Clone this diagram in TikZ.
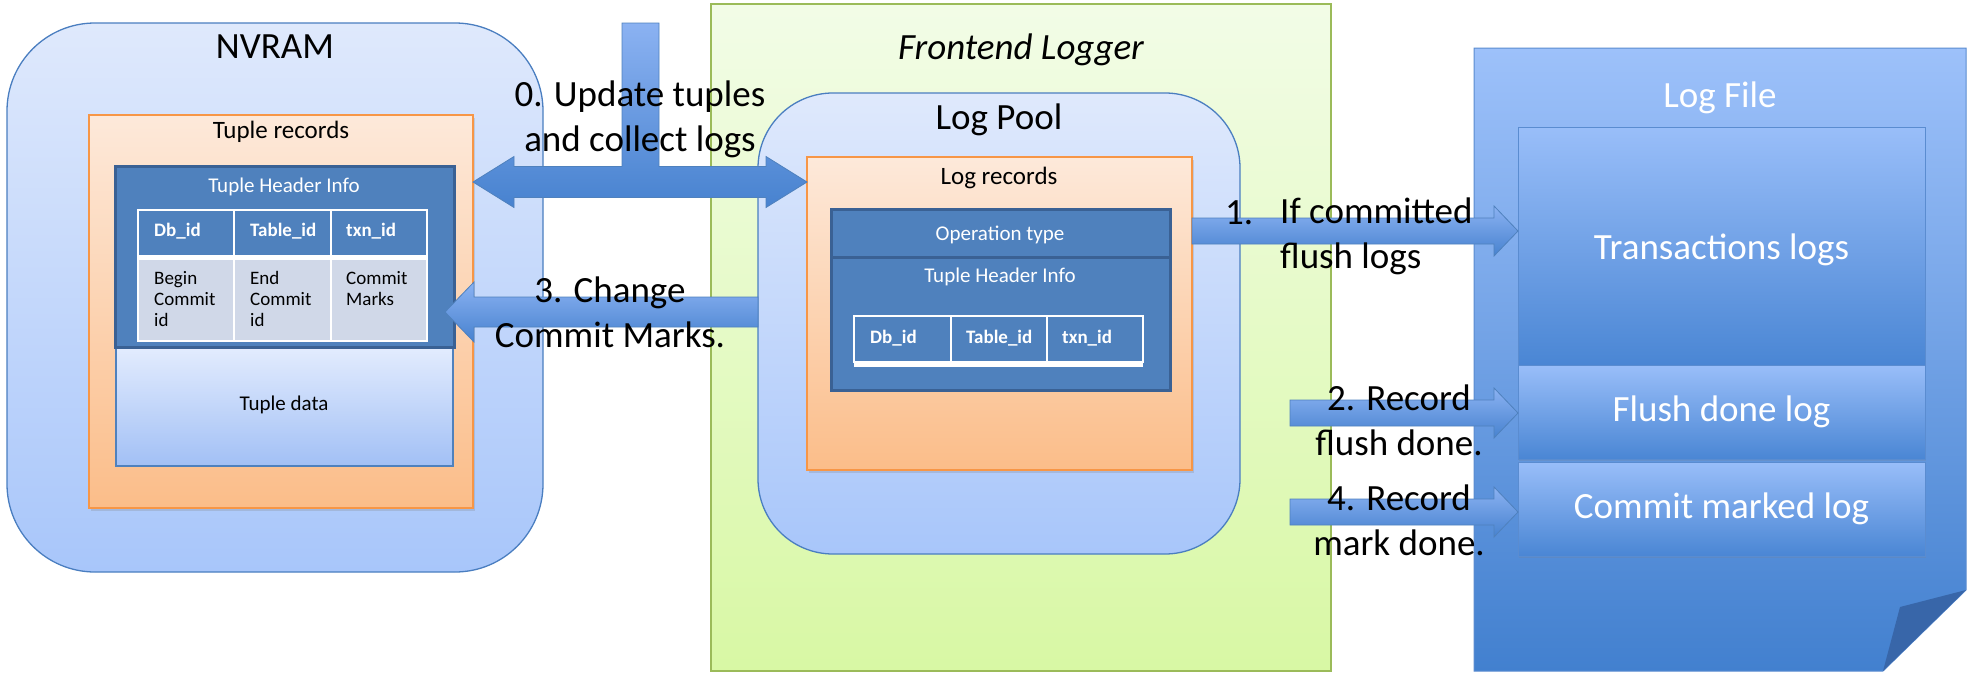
\documentclass[tikz,border=0pt]{standalone}
\usepackage{fontspec}
\setmainfont{Carlito}
\usetikzlibrary{calc,shadows}
\definecolor{outerTop}{HTML}{DFE9FC}
\definecolor{outerBot}{HTML}{A8C6FA}
\definecolor{outerLine}{HTML}{4A7EC0}
\definecolor{orTop}{HTML}{FDE9DA}
\definecolor{orBot}{HTML}{FBBD89}
\definecolor{orLine}{HTML}{F79646}
\definecolor{hdrFill}{HTML}{4F81BD}
\definecolor{hdrLine}{HTML}{3A6194}
\definecolor{cellFill}{HTML}{D0D8E8}
\definecolor{tdTop}{HTML}{E3ECFE}
\definecolor{tdBot}{HTML}{A2C0F5}
\definecolor{grTop}{HTML}{F2FCE7}
\definecolor{grBot}{HTML}{D8F8A4}
\definecolor{grLine}{HTML}{9BBB59}
\definecolor{lfTop}{HTML}{9DC1FA}
\definecolor{lfBot}{HTML}{4280CF}
\definecolor{lfLine}{HTML}{5A8CD0}
\definecolor{ibTop}{HTML}{99BEF9}
\definecolor{ibBot}{HTML}{4A86D4}
\definecolor{foldC}{HTML}{3866A9}
\definecolor{arTop}{HTML}{8BB2F2}
\definecolor{arBot}{HTML}{4782CF}
\definecolor{arLine}{HTML}{4F81BD}
\newcommand\fsz[2]{\fontsize{#1}{#2}\selectfont}
% box node: name, x1, y1, x2, y2, style
\newcommand\boxat[6]{\node[#6, anchor=north west, inner sep=0pt, outer sep=0pt,
  minimum width={(#4-#2)*1pt}, minimum height={(#5-#3)*1pt}] (#1) at (#2,#3) {};}
% block arrow: tail, tip, y, half body, half head, head length (signed), style
\newcommand\blockarrow[7]{\path[#7] let \p1=(#1), \p2=(#2), \p3=(0,#3) in
  (\x1,{\y3+#4}) -- ({\x2-(#6)},{\y3+#4}) -- ({\x2-(#6)},{\y3+#5}) -- (\x2,\y3)
  -- ({\x2-(#6)},{\y3-#5}) -- ({\x2-(#6)},{\y3-#4}) -- (\x1,{\y3-#4}) -- cycle;}
\tikzset{
  outerbox/.style={draw=outerLine, line width=1.3pt, top color=outerTop, bottom color=outerBot},
  orbox/.style={draw=orLine, line width=1.5pt, top color=orTop, bottom color=orBot,
    drop shadow={shadow xshift=1.5pt, shadow yshift=-2.5pt, opacity=0.25}},
  hdrbox/.style={draw=hdrLine, line width=3pt, fill=hdrFill},
  tdbox/.style={draw=hdrFill, line width=1.5pt, top color=tdTop, bottom color=tdBot},
  greenbox/.style={draw=grLine, line width=1.2pt, top color=grTop, bottom color=grBot},
  innerlf/.style={draw=lfLine, line width=1pt, top color=ibTop, bottom color=ibBot,
    drop shadow={shadow xshift=1pt, shadow yshift=-2pt, opacity=0.2}},
  blockarr/.style={draw=arLine, line width=0.8pt, top color=arTop, bottom color=arBot},
  bigtxt/.style={inner sep=0pt, font=\fsz{37}{44}},
  midtxt/.style={inner sep=0pt, font=\fsz{25}{30}},
  whtxt/.style={inner sep=0pt, text=white, font=\fsz{21}{25}},
  celltxt/.style={inner sep=0pt, font=\fsz{19}{21}, align=left},
  cellhdr/.style={inner sep=0pt, text=white, font=\fsz{19}{22}\bfseries},
  lftxt/.style={inner sep=0pt, text=white, font=\fsz{37}{44}},
  lbl/.style={inner sep=0pt, font=\fsz{37}{45}, align=center},
}
\begin{document}
\begin{tikzpicture}[x=1pt,y=-1pt]
\useasboundingbox (0,0) rectangle (1973,683);
% ---------- NVRAM ----------
\boxat{nvram}{7}{23}{543}{572}{outerbox, rounded corners=88pt}
\node[bigtxt] (nvramt) at (275,47) {NVRAM};
\boxat{tuplerec}{89}{115}{473}{508}{orbox}
\node[midtxt] (tuplerect) at (281,132) {Tuple records};
\boxat{tdata}{116}{347}{453}{466}{tdbox}
\node[whtxt, text=black] (tdatat) at (284,405) {Tuple data};
\boxat{hdr1}{115}{166}{454}{347}{hdrbox}
\node[whtxt] (hdr1t) at (284,187) {Tuple Header Info};
\fill[hdrFill] (138,210) rectangle (427,255);
\fill[cellFill] (138,260) rectangle (427,341);
\fill[white] (138,255) rectangle (427,260);
\draw[white, line width=2.5pt] (138,210) rectangle (427,341);
\draw[white, line width=2.5pt] (234,210) -- (234,341) (331,210) -- (331,341);
\node[cellhdr, anchor=west] (c11) at (154,231) {Db\_id};
\node[cellhdr, anchor=west] (c12) at (250,231) {Table\_id};
\node[cellhdr, anchor=west] (c13) at (346,231) {txn\_id};
\node[celltxt, anchor=north west] (c21) at (154,271) {Begin\\Commit\\id};
\node[celltxt, anchor=north west] (c22) at (250,271) {End\\Commit\\id};
\node[celltxt, anchor=north west] (c23) at (346,271) {Commit\\Marks};
% ---------- Frontend Logger ----------
\boxat{frontend}{711}{4}{1331}{671}{greenbox}
\node[bigtxt, font=\fsz{37}{44}\itshape] (frontendt) at (1021,50) {Frontend Logger};
\boxat{logpool}{758}{93}{1240}{554}{outerbox, rounded corners=75pt}
\node[bigtxt] (logpoolt) at (999,120) {Log Pool};
\boxat{logrec}{807}{157}{1192}{470}{orbox}
\node[midtxt] (logrect) at (999,178) {Log records};
\boxat{hdr2}{831}{209}{1170}{390}{hdrbox}
\draw[hdrLine, line width=3pt] (hdr2.west |- 0,257) -- (hdr2.east |- 0,257);
\node[whtxt] (optype) at (1000,235) {Operation type};
\node[whtxt] (hdr2t) at (1000,277) {Tuple Header Info};
\draw[white, line width=2.5pt] (854,316) rectangle (1143,362);
\fill[white] (854,362) rectangle (1143,367);
\draw[white, line width=2.5pt] (951,316) -- (951,362) (1047,316) -- (1047,362);
\node[cellhdr, anchor=west] (d11) at (870,338) {Db\_id};
\node[cellhdr, anchor=west] (d12) at (966,338) {Table\_id};
\node[cellhdr, anchor=west] (d13) at (1062,338) {txn\_id};
% ---------- Log File ----------
\path[draw=lfLine, line width=1pt, top color=lfTop, bottom color=lfBot]
  (1474,48) -- (1966,48) -- (1966,590) -- (1883,671) -- (1474,671) -- cycle;
\fill[foldC] (1966,590) -- (1900,607) -- (1883,671) -- cycle;
\node[lftxt] (logfilet) at (1720,98) {Log File};
\boxat{txlogs}{1518}{127}{1925}{365}{innerlf}
\node[lftxt] (txlogst) at (txlogs.center |- 0,250) {Transactions logs};
\boxat{flushlog}{1518}{365}{1925}{459}{innerlf}
\node[lftxt] (flushlogt) at (flushlog.center) {Flush done log};
\boxat{commitlog}{1518}{462}{1925}{556}{innerlf}
\node[lftxt] (commitlogt) at (commitlog.center) {Commit marked log};
% ---------- Arrows ----------
\coordinate (stemtop) at (622,23);
\path[blockarr] let \p1=(tuplerec.east), \p2=(logrec.west), \p3=(0,182), \p4=(stemtop) in
  (\x1,\y3) -- ({\x1+41},{\y3+25.5}) -- ({\x1+41},{\y3+15.5}) -- (\x4,{\y3+15.5})
  -- (\x4,\y4) -- ({\x4+37},\y4) -- ({\x4+37},{\y3+15.5}) -- ({\x2-41},{\y3+15.5})
  -- ({\x2-41},{\y3+25.5}) -- (\x2,\y3) -- ({\x2-41},{\y3-25.5}) -- ({\x2-41},{\y3-15.5})
  -- ({\x1+41},{\y3-15.5}) -- ({\x1+41},{\y3-25.5}) -- cycle;
\coordinate (a3tip) at ([xshift=-9pt]hdr1.east);
\blockarrow{logpool.west}{a3tip}{312}{15}{30}{-29}{blockarr}
\blockarrow{logrec.east}{txlogs.west}{231}{13}{25}{24}{blockarr}
\coordinate (a2tail) at (1290,413);
\coordinate (a4tail) at (1290,512);
\blockarrow{a2tail}{flushlog.west}{413}{13}{25}{24}{blockarr}
\blockarrow{a4tail}{commitlog.west}{512}{13}{25}{24}{blockarr}
% ---------- Arrow labels ----------
\node[lbl] (l0) at (640,119) {0. Update tuples\\and collect logs};
\node[lbl] (l3) at (610,312) {3. Change\\Commit Marks.};
\node[inner sep=0pt, font=\fsz{37}{45}, anchor=west] (l1n) at (1225,213) {1.};
\node[inner sep=0pt, font=\fsz{37}{45}, align=left, anchor=west] (l1) at (1280,236) {If committed\\flush logs};
\node[lbl] (l2) at (1399,420) {2. Record\\flush done.};
\node[lbl] (l4) at (1399,520) {4. Record\\mark done.};
\end{tikzpicture}
\end{document}
